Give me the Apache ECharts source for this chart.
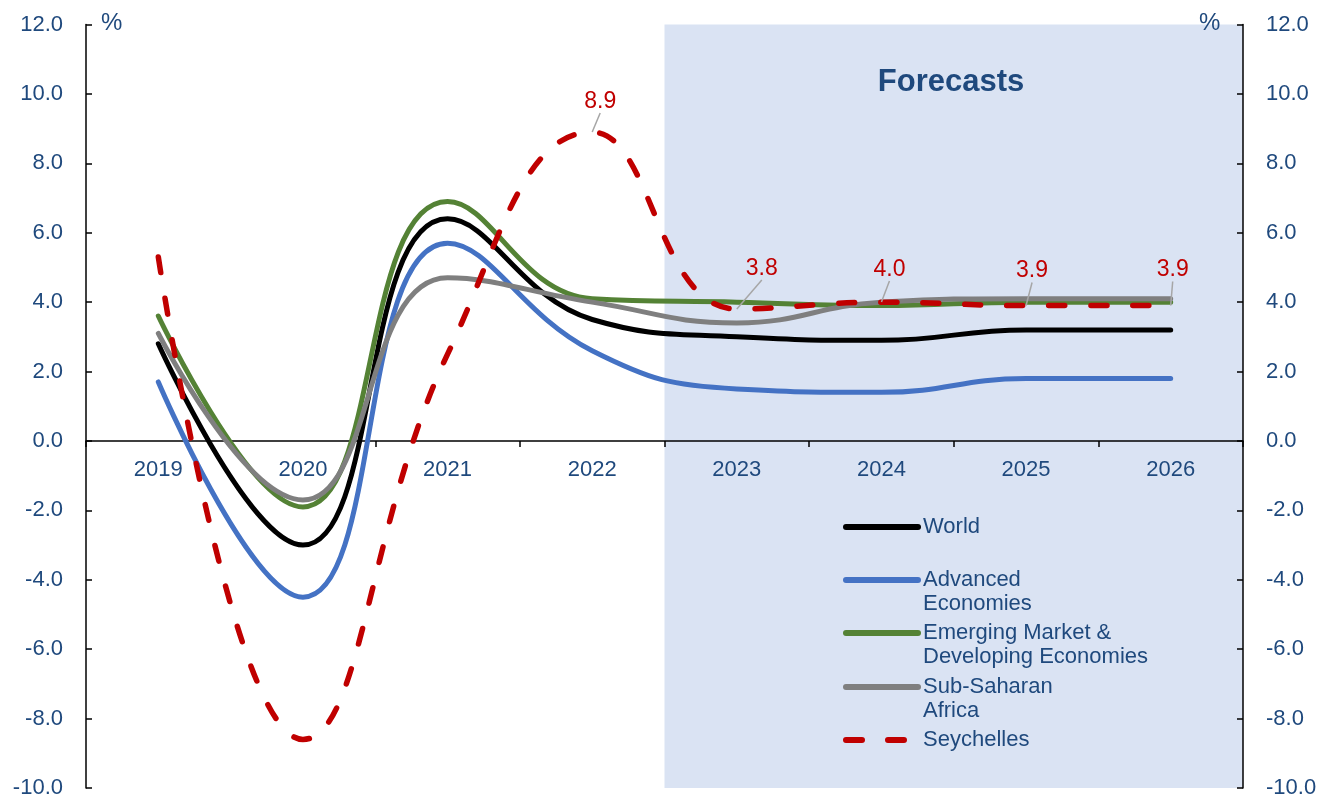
<!DOCTYPE html>
<html>
<head>
<meta charset="utf-8">
<script src="https://cdn.jsdelivr.net/npm/echarts@6/dist/echarts.min.js"></script>
<style>
  html, body { margin: 0; padding: 0; background: #fff; }
  #chart { width: 1322px; height: 799px; }
</style>
</head>
<body>
<div id="chart"></div>
<script>
// categories + values
const years = ['2019', '2020', '2021', '2022', '2023', '2024', '2025', '2026']
const world = [2.8, -3.0, 6.4, 3.5, 3.0, 2.9, 3.2, 3.2]
const advanced = [1.7, -4.5, 5.7, 2.6, 1.5, 1.4, 1.8, 1.8]
const emerging = [3.6, -1.9, 6.9, 4.1, 4.0, 3.9, 4.0, 4.0]
const ssa = [3.1, -1.7, 4.7, 4.0, 3.4, 4.0, 4.1, 4.1]
const seychelles = [5.3, -8.6, 2.5, 8.9, 3.8, 4.0, 3.9, 3.9]
const forecastStart = 4 // boundary between 2022 and 2023
const yTicks = { min: -10, max: 12, interval: 2 }

const FONT = 'Liberation Sans, Arial, sans-serif'
const NAVY = '#1F497D'

const GRID = { left: 86, right: 79, top: 24.5, bottom: 11 }
const plotH = 799 - GRID.top - GRID.bottom
// move the category axis up from the bottom edge to the 0 line
const zeroOffset = -plotH * (0 - yTicks.min) / (yTicks.max - yTicks.min)

const chart = echarts.init(document.getElementById('chart'))

// label offsets for the seychelles values (dx, dy) by data index
const labelShift = {
  3: [8, -14],
  4: [25, -24],
  5: [8, -16],
  6: [6, -18],
  7: [2, -19],
}

function lineSeries(name, data, color, dashed) {
  return {
    name: name,
    type: 'line',
    data: data,
    smooth: 0.45,
    symbol: 'none',
    xAxisIndex: 0,
    yAxisIndex: 0,
    lineStyle: dashed
      ? { width: 5.5, color: color, type: [16, 26], cap: 'round' }
      : { width: 5, color: color, cap: 'round' },
    itemStyle: { color: color },
    emphasis: { disabled: true },
  }
}

const seySeries = lineSeries(
  'Seychelles',
  seychelles.map((v, i) => (i >= 3 ? { value: v, label: { show: true } } : v)),
  '#C00000',
  true
)
// labels on a line series hang off the symbols, so keep tiny ones
seySeries.symbol = 'circle'
seySeries.symbolSize = 0.1
seySeries.showSymbol = true
seySeries.label = {
  show: false,
  position: 'top',
  color: '#C00000',
  fontFamily: FONT,
  fontSize: 23,
  formatter: (p) => p.value.toFixed(1),
}
seySeries.labelLine = {
  show: true,
  lineStyle: { color: '#A6A6A6', width: 1.5 },
}
seySeries.labelLayout = (params) => {
  const s = labelShift[params.dataIndex]
  if (!s) return {}
  return { dx: s[0], dy: s[1] }
}

function legendItem(name, iconY, twoLines) {
  return {
    orient: 'vertical',
    left: 843,
    top: iconY - (twoLines ? 36 : 12),
    padding: 0,
    itemWidth: 72,
    itemHeight: 14,
    itemGap: 0,
    selectedMode: false,
    data: [name],
    // blank first line so the icon sits beside the first text line
    formatter: (n) => (n.indexOf('\n') >= 0 ? '\n' + n : n),
    itemStyle: { opacity: 0 },
    lineStyle: { width: 6, cap: 'round' },
    textStyle: {
      color: NAVY,
      fontFamily: FONT,
      fontSize: 22,
      lineHeight: 24,
    },
  }
}

chart.setOption({
  animation: false,
  textStyle: { fontFamily: FONT },
  grid: Object.assign({ outerBoundsMode: 'none', containLabel: false }, GRID),
  title: {
    text: 'Forecasts',
    left: 946,
    top: 62,
    textAlign: 'center',
    textStyle: { color: NAVY, fontFamily: FONT, fontSize: 31, fontWeight: 'bold' },
  },
  legend: [
    legendItem('World', 527, false),
    legendItem('Advanced\nEconomies', 580, true),
    legendItem('Emerging Market &\nDeveloping Economies', 633, true),
    legendItem('Sub-Saharan\nAfrica', 687, true),
    legendItem('Seychelles', 740, false),
  ],
  xAxis: [
    {
      type: 'category',
      data: years,
      offset: zeroOffset,
      axisLine: { onZero: false, lineStyle: { color: '#000', width: 1.5 } },
      axisTick: { show: true, length: 6, interval: 0, lineStyle: { color: '#000', width: 1.5 } },
      axisLabel: { color: NAVY, fontSize: 22, fontFamily: FONT, margin: 18, interval: 0 },
      splitLine: { show: false },
      z: 3,
    },
    {
      type: 'value',
      min: 0,
      max: years.length,
      show: false,
    },
  ],
  yAxis: [
    {
      type: 'value',
      position: 'left',
      min: yTicks.min,
      max: yTicks.max,
      interval: yTicks.interval,
      axisLine: { show: true, lineStyle: { color: '#000', width: 1.5 } },
      axisTick: { show: true, inside: true, length: 6, lineStyle: { color: '#000', width: 1.5 } },
      axisLabel: {
        color: NAVY, fontSize: 22, fontFamily: FONT, margin: 23,
        formatter: (v) => v.toFixed(1),
      },
      splitLine: { show: false },
      z: 3,
    },
    {
      type: 'value',
      position: 'right',
      min: yTicks.min,
      max: yTicks.max,
      interval: yTicks.interval,
      axisLine: { show: true, lineStyle: { color: '#000', width: 1.5 } },
      axisTick: { show: true, inside: true, length: 6, lineStyle: { color: '#000', width: 1.5 } },
      axisLabel: {
        color: NAVY, fontSize: 22, fontFamily: FONT, margin: 23,
        formatter: (v) => v.toFixed(1),
      },
      splitLine: { show: false },
      z: 3,
    },
  ],
  graphic: [
    { type: 'text', left: 101, top: 11, z: 100, style: { text: '%', fontSize: 24, fontFamily: FONT, fill: NAVY } },
    { type: 'text', left: 1199, top: 11, z: 100, style: { text: '%', fontSize: 24, fontFamily: FONT, fill: NAVY } },
  ],
  series: [
    {
      name: 'forecast',
      type: 'line',
      xAxisIndex: 1,
      yAxisIndex: 0,
      data: [],
      silent: true,
      z: 0,
      markArea: {
        silent: true,
        itemStyle: { color: '#DAE3F3' },
        data: [[
          { xAxis: forecastStart, yAxis: yTicks.min },
          { xAxis: years.length, yAxis: yTicks.max },
        ]],
      },
    },
    lineSeries('World', world, '#000000'),
    lineSeries('Advanced\nEconomies', advanced, '#4472C4'),
    lineSeries('Emerging Market &\nDeveloping Economies', emerging, '#548235'),
    lineSeries('Sub-Saharan\nAfrica', ssa, '#7F7F7F'),
    seySeries,
  ],
})
</script>
</body>
</html>
